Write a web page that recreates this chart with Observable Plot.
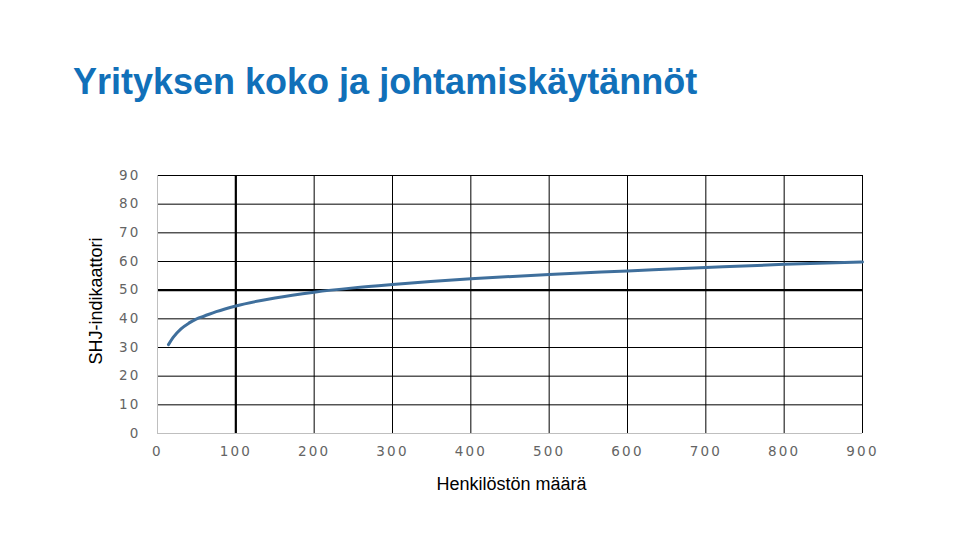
<!DOCTYPE html>
<html>
<head>
<meta charset="utf-8">
<script src="https://cdn.jsdelivr.net/npm/d3@7"></script>
<script src="https://cdn.jsdelivr.net/npm/@observablehq/plot@0.6"></script>
<style>
  html, body { margin: 0; padding: 0; background: #fff; }
  #wrap { width: 960px; height: 540px; position: relative; overflow: hidden; }
  #title { position: absolute; left: 73px; top: 64px; line-height: 1; font-family: "Liberation Sans", Arial, sans-serif; font-weight: bold; font-size: 36px; color: #1170b9; white-space: nowrap; }
  #chart { position: absolute; left: 0; top: 130px; }
  .lab { position: absolute; font-family: "Liberation Sans", Arial, sans-serif; font-size: 18px; line-height: 1; color: #000; white-space: nowrap; }
  #xlab { left: 511.5px; top: 475px; transform: translateX(-50%); }
  #ylab { left: 96px; top: 301px; transform: translate(-50%, -50%) rotate(-90deg); }
</style>
</head>
<body>
<div id="wrap">
  <div id="title">Yrityksen koko ja johtamiskäytännöt</div>
  <div id="chart"></div>
  <div class="lab" id="xlab"></div>
  <div class="lab" id="ylab"></div>
</div>
<script>
const employees = [14, 20, 30, 40, 50, 60, 75, 100, 150, 200, 250, 300, 400, 500, 600, 700, 800, 900];
const shjValues = [31, 33.5, 36.5, 38.5, 40, 41, 42.5, 44.5, 47.3, 49.3, 50.8, 52, 54, 55.5, 56.7, 57.9, 59, 59.8];
const xTicks = [0, 100, 200, 300, 400, 500, 600, 700, 800, 900];
const yTicks = [0, 10, 20, 30, 40, 50, 60, 70, 80, 90];
const xLabel = "Henkilöstön määrä";
const yLabel = "SHJ-indikaattori";

document.getElementById("xlab").textContent = xLabel;
document.getElementById("ylab").textContent = yLabel;

const data = employees.map((x, i) => ({x, y: shjValues[i]}));
const tickFont = "'DejaVu Sans', Verdana, sans-serif";

const plot = Plot.plot({
  width: 960,
  height: 410,
  marginLeft: 157,
  marginRight: 98,
  marginTop: 45,
  marginBottom: 107,
  style: {fontFamily: tickFont, fontSize: "13.5px", letterSpacing: "2.2px", color: "#646464", background: "white"},
  x: {domain: [0, 900]},
  y: {domain: [0, 90]},
  marks: [
    Plot.ruleX(xTicks.filter(d => d > 0), {stroke: "black", strokeWidth: d => d === 100 ? 2.2 : 1, strokeOpacity: 1}),
    Plot.ruleY(yTicks.filter(d => d > 0), {stroke: "black", strokeWidth: d => d === 50 ? 2.2 : 1, strokeOpacity: 1}),
    Plot.ruleX([0], {stroke: "#bfbfbf", strokeWidth: 1}),
    Plot.ruleY([0], {stroke: "#bfbfbf", strokeWidth: 1}),
    Plot.axisX({ticks: xTicks, tickSize: 0, tickPadding: 13, label: null, fill: "#646464"}),
    Plot.axisY({ticks: yTicks, tickSize: 0, tickPadding: 17, label: null, fill: "#646464"}),
    Plot.line(data, {x: "x", y: "y", stroke: "#3f6f9c", strokeWidth: 3, curve: "monotone-x"})
  ]
});
document.getElementById("chart").appendChild(plot);
</script>
</body>
</html>
